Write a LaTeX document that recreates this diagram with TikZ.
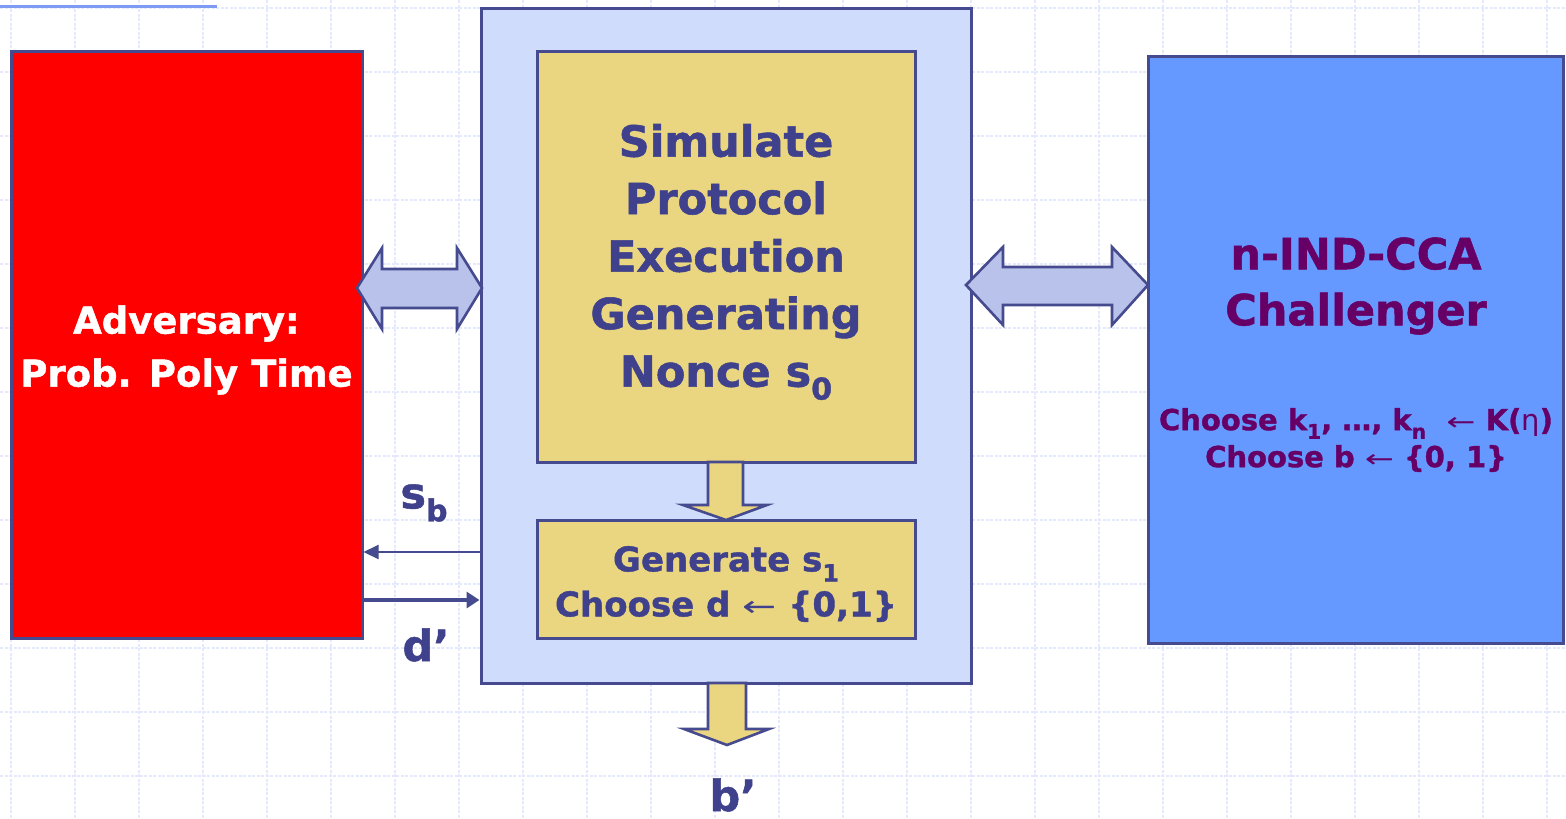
\documentclass[tikz,border=0pt]{standalone}
\usepackage{fontspec}
\setmainfont{DejaVu Sans}[BoldFeatures={FakeBold=1.2}]
\usetikzlibrary{arrows.meta,calc}
\definecolor{bord}{HTML}{464A8E}
\definecolor{txtblue}{HTML}{3F418C}
\definecolor{advred}{HTML}{FF0000}
\definecolor{simbg}{HTML}{CFDCFC}
\definecolor{yel}{HTML}{EAD680}
\definecolor{chalblue}{HTML}{6699FF}
\definecolor{purp}{HTML}{660066}
\definecolor{arrfill}{HTML}{B8C2EA}
\definecolor{gridc}{HTML}{E4EAFB}
\definecolor{topl}{HTML}{7F9AF2}
\newcommand{\lowsub}[1]{\raisebox{-0.3em}{\scalebox{0.7}{#1}}}
\newcommand{\getsarrow}{{\fontseries{m}\selectfont\scalebox{1.2}[0.85]{←}}}
\newcommand{\etaglyph}{{\fontseries{m}\selectfont η}}
\begin{document}
\begin{tikzpicture}[x=1pt,y=-1pt,
  gridline/.style={draw=gridc, line width=1.2pt, dash pattern=on 3pt off 1.5pt},
  topline/.style={draw=topl, line width=3pt},
  box/.style={draw=bord, line width=3pt, rectangle, inner sep=0pt},
  blockarrow/.style={draw=bord, line width=2.6pt, line join=miter},
  lbl/.style={inner sep=0pt, text=txtblue, font=\fontsize{43}{50}\selectfont\bfseries},
  thinarrow/.style={draw=bord, line width=2pt, -{Triangle[length=15pt,width=14pt]}},
  thickarrow/.style={draw=bord, line width=3.5pt, -{Triangle[length=13pt,width=16pt]}}
]
\useasboundingbox (0,0) rectangle (1566,819);
\fill[white] (0,0) rectangle (1566,819);
% background grid
\foreach \gx in {11,75,...,1547} \draw[gridline] (\gx,0) -- (\gx,819);
\foreach \gy in {8,72,...,776} \draw[gridline] (0,\gy) -- (1566,\gy);
\draw[topline] (0,6) -- (217,6);

% boxes
\node[box, fill=advred, minimum width=351pt, minimum height=587pt] (adv) at (186.5,344.5) {};
\node[box, fill=simbg, minimum width=490pt, minimum height=675pt] (sim) at (726,345.5) {};
\node[box, fill=yel, minimum width=378pt, minimum height=411pt] (proto) at (726,256.5) {};
\node[box, fill=yel, minimum width=378pt, minimum height=118pt] (gen) at (726,579) {};
\node[box, fill=chalblue, minimum width=415pt, minimum height=587pt] (chal) at (1355.5,349.5) {};

% texts
\node[inner sep=0pt, text=white, align=center, font=\fontsize{37}{53}\selectfont\bfseries] (advtxt) at (186.5,350)
  {Adversary:\\Prob. Poly Time};
\node[inner sep=0pt, text=txtblue, align=center, font=\fontsize{43}{57.5}\selectfont\bfseries] (prototxt) at (726,262)
  {Simulate\\Protocol\\Execution\\Generating\\Nonce s\lowsub{0}};
\node[inner sep=0pt, text=txtblue, align=center, font=\fontsize{34}{45}\selectfont\bfseries] (gentxt) at (726,584)
  {Generate s\lowsub{1}\\Choose d \getsarrow\ \{0,1\}};
\node[inner sep=0pt, text=purp, align=center, font=\fontsize{43}{56}\selectfont\bfseries] (chaltxt) at (1356,286)
  {n-IND-CCA\\Challenger};
\node[inner sep=0pt, text=purp, align=center, font=\fontsize{29}{37}\selectfont\bfseries] (choosetxt) at (1356,440)
  {Choose k\lowsub{1}, …, k\lowsub{n} \ \getsarrow\ K(\etaglyph)\\Choose b \getsarrow\ \{0, 1\}};

% double block arrows
\draw[blockarrow, fill=arrfill] (357,288) -- (382,248) -- (382,269) -- (457,269) -- (457,248) -- (482,288)
  -- (457,329) -- (457,308) -- (382,308) -- (382,329) -- cycle;
\draw[blockarrow, fill=arrfill] (966,285) -- (1003,247) -- (1003,267) -- (1112,267) -- (1112,247) -- (1148,285)
  -- (1112,325) -- (1112,305) -- (1003,305) -- (1003,325) -- cycle;
% down block arrows
\draw[blockarrow, fill=yel] (708,462) -- (743,462) -- (743,505) -- (767,505) -- (726,520) -- (683,505) -- (708,505) -- cycle;
\draw[blockarrow, fill=yel] (708,683) -- (746,683) -- (746,729) -- (769,729) -- (727,745) -- (684,729) -- (708,729) -- cycle;

% thin arrows
\draw[thinarrow] (sim.west |- 0,552) -- (adv.east |- 0,552);
\draw[thickarrow] (adv.east |- 0,600) -- (sim.west |- 0,600);

% labels
\node[lbl] (sb) at (424,503) {s\lowsub{b}};
\node[lbl] (dp) at (426,645) {d’};
\node[lbl] (bp) at (733,795) {b’};
\end{tikzpicture}
\end{document}
